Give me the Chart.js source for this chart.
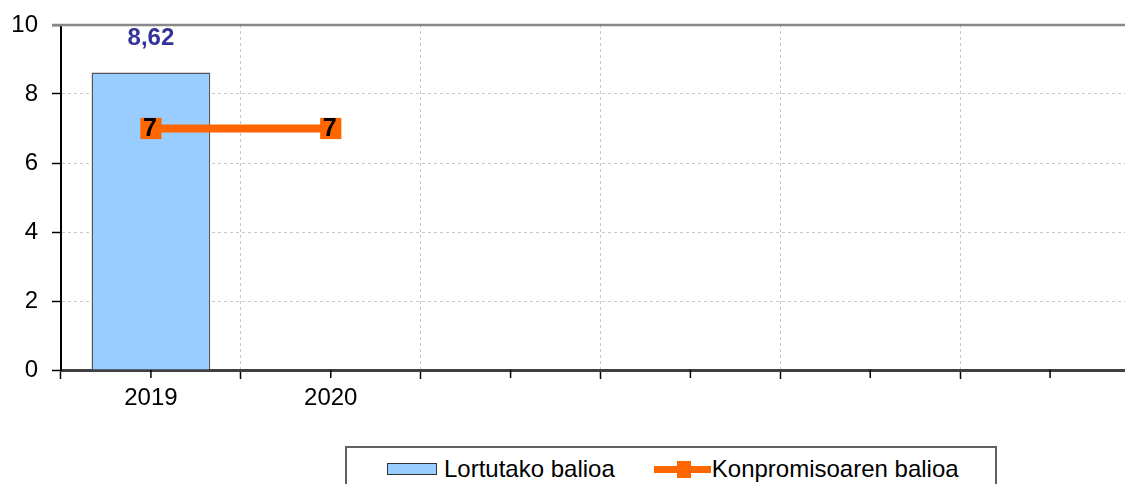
<!DOCTYPE html>
<html>
<head>
<meta charset="utf-8">
<script src="https://cdn.jsdelivr.net/npm/chart.js@4.4.1/dist/chart.umd.min.js"></script>
<style>
  html, body { margin: 0; padding: 0; background: #fff; overflow: hidden; }
  #wrap { position: relative; width: 1125px; height: 484px; overflow: hidden; }
  #chart { position: absolute; left: 0; top: 0; }
  #legend {
    position: absolute; left: 345px; top: 446px; width: 652px; height: 60px;
    border: 2px solid #606060; box-sizing: border-box; background: #fff;
    padding: 7px 0 0 40px; display: flex; align-items: flex-start;
    font-family: "Liberation Sans", Arial, sans-serif; font-size: 24px; color: #000;
    white-space: nowrap;
  }
  #legend .item { display: flex; align-items: center; flex-shrink: 0; height: 28px; line-height: 28px; margin-right: 39px; }
  #legend .box { flex-shrink: 0; width: 48px; height: 10px; border: 1px solid #333; margin-right: 7px; }
  #legend .line { flex-shrink: 0; position: relative; width: 57px; height: 7px; margin-right: 1px; }
  #legend .line span { position: absolute; left: 23px; top: -5px; width: 14px; height: 17px; }
</style>
</head>
<body>
<div id="wrap">
  <canvas id="chart" width="1155" height="484"></canvas>
  <div id="legend"></div>
</div>
<script>
const categories = ['2019', '2020', '', '', '', ''];
const achievedValues = [8.62, null, null, null, null, null];
const commitmentValues = [7, 7, null, null, null, null];
const seriesNames = ['Lortutako balioa', 'Konpromisoaren balioa'];
const yTicks = [0, 2, 4, 6, 8, 10];

const FONT = '"Liberation Sans", Arial, sans-serif';
const BAR_COLOR = '#99CCFF';
const LINE_COLOR = '#FF6600';

const fmt = (v) => String(v).replace('.', ',');

// top border of the plot area + short ticks under each category
const framePlugin = {
  id: 'frame',
  afterDraw(chart) {
    const { ctx, chartArea } = chart;
    const x = chart.scales.x;
    ctx.save();
    ctx.strokeStyle = '#888';
    ctx.lineWidth = 2.5;
    ctx.beginPath();
    ctx.moveTo(chartArea.left - 9, chartArea.top);
    ctx.lineTo(chartArea.right, chartArea.top);
    ctx.stroke();

    ctx.strokeStyle = '#000';
    ctx.lineWidth = 1.5;
    categories.forEach((c, i) => {
      const px = x.getPixelForValue(i);
      ctx.beginPath();
      ctx.moveTo(px, chartArea.bottom);
      ctx.lineTo(px, chartArea.bottom + 8);
      ctx.stroke();
    });
    ctx.restore();
  }
};

const labelPlugin = {
  id: 'valueLabels',
  afterDatasetsDraw(chart) {
    const { ctx } = chart;
    ctx.save();
    ctx.textAlign = 'center';
    ctx.textBaseline = 'middle';

    chart.getDatasetMeta(1).data.forEach((bar, i) => {
      const v = achievedValues[i];
      if (v == null) return;
      ctx.fillStyle = '#333399';
      ctx.font = 'bold 24px ' + FONT;
      ctx.fillText(fmt(v), bar.x, bar.y - 34);
    });

    chart.getDatasetMeta(0).data.forEach((pt, i) => {
      const v = commitmentValues[i];
      if (v == null) return;
      ctx.fillStyle = '#000';
      ctx.font = 'bold 25px ' + FONT;
      ctx.fillText(fmt(v), pt.x - 1, pt.y + 1);
    });
    ctx.restore();
  }
};

const chart = new Chart(document.getElementById('chart').getContext('2d'), {
  data: {
    labels: categories,
    datasets: [
      {
        type: 'line',
        label: seriesNames[1],
        data: commitmentValues,
        borderColor: LINE_COLOR,
        backgroundColor: LINE_COLOR,
        borderWidth: 8,
        pointStyle: 'rect',
        pointRadius: 15,
        pointBorderWidth: 0,
        pointBackgroundColor: LINE_COLOR,
        order: 1,
      },
      {
        type: 'bar',
        label: seriesNames[0],
        data: achievedValues,
        backgroundColor: BAR_COLOR,
        borderColor: '#555',
        borderWidth: 1.5,
        barPercentage: 0.66,
        categoryPercentage: 1,
        order: 2,
      },
    ],
  },
  options: {
    responsive: false,
    animation: false,
    layout: { padding: { top: 25, right: 1, left: 0, bottom: 0 } },
    plugins: {
      legend: { display: false },
      tooltip: { enabled: false },
    },
    scales: {
      x: {
        offset: true,
        grid: {
          offset: true,
          color: '#c8c8c8',
          lineWidth: 1,
          tickColor: '#000',
          tickWidth: 1.5,
          tickLength: 9,
        },
        border: { color: '#404040', width: 3, dash: [3, 3] },
        ticks: {
          color: '#000',
          font: { family: FONT, size: 24 },
          padding: 5,
          maxRotation: 0,
          autoSkip: false,
        },
        afterFit: (scale) => { scale.height = 114; },
      },
      y: {
        min: yTicks[0],
        max: yTicks[yTicks.length - 1],
        grid: {
          color: '#c8c8c8',
          lineWidth: 1,
          tickColor: '#000',
          tickWidth: 1.5,
          tickLength: 9,
        },
        border: { color: '#000', width: 2, dash: [3, 3], z: 1 },
        ticks: {
          stepSize: yTicks[1] - yTicks[0],
          color: '#000',
          font: { family: FONT, size: 24 },
          padding: 14,
        },
        afterFit: (scale) => {
          scale.width = 61;
          scale.paddingTop = 0;
          scale.paddingBottom = 0;
        },
      },
    },
  },
  plugins: [framePlugin, labelPlugin],
});

// legend built from the datasets, in the reference order (bar first)
const legend = document.getElementById('legend');
[chart.data.datasets[1], chart.data.datasets[0]].forEach((ds) => {
  const item = document.createElement('div');
  item.className = 'item';
  const sym = document.createElement('div');
  if (ds.type === 'bar') {
    sym.className = 'box';
    sym.style.background = ds.backgroundColor;
  } else {
    sym.className = 'line';
    sym.style.background = ds.borderColor;
    const m = document.createElement('span');
    m.style.background = ds.borderColor;
    sym.appendChild(m);
  }
  const txt = document.createElement('span');
  txt.textContent = ds.label;
  item.appendChild(sym);
  item.appendChild(txt);
  legend.appendChild(item);
});
</script>
</body>
</html>
